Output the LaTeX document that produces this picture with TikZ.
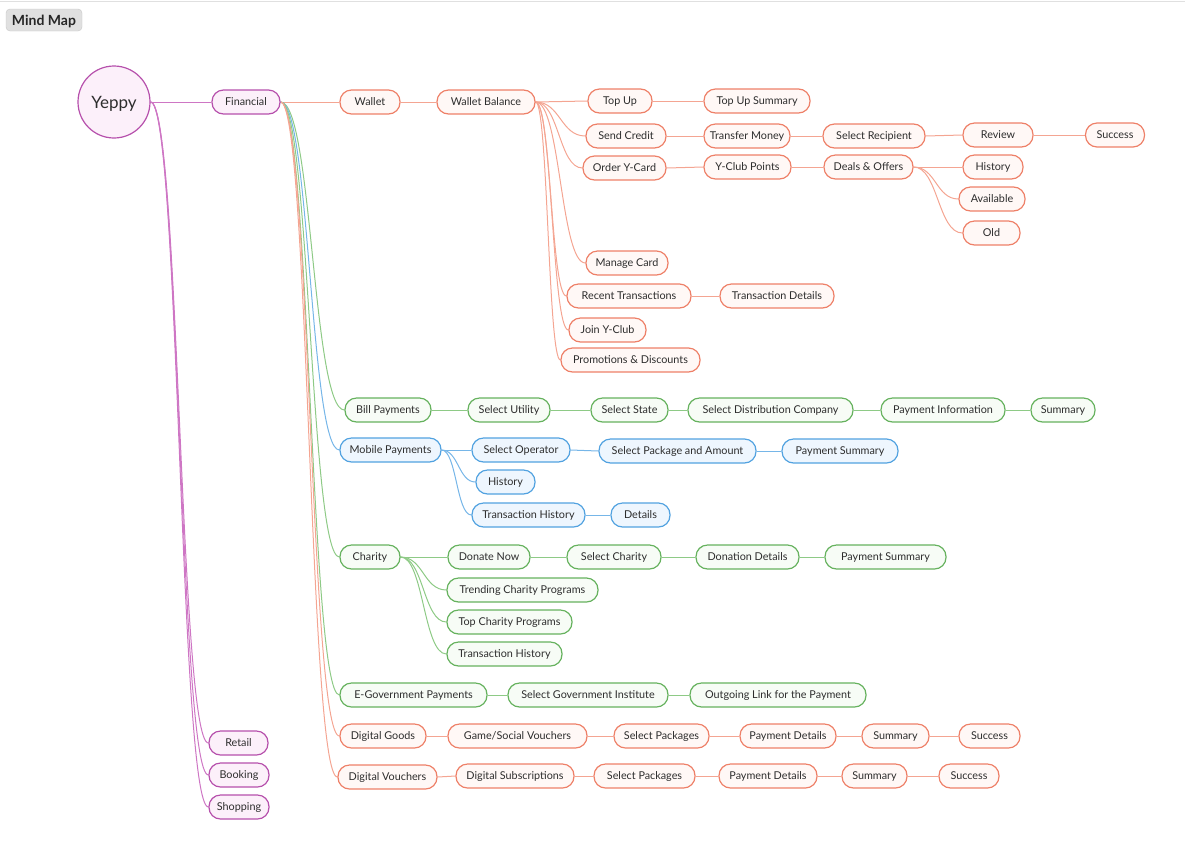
\documentclass[tikz,border=0pt]{standalone}
\usepackage{fontspec}
\setmainfont{Lato}
\usetikzlibrary{calc,backgrounds}
\definecolor{txt}{RGB}{45,45,45}
\definecolor{oB}{RGB}{238,128,104}
\definecolor{oF}{RGB}{255,248,246}
\definecolor{oE}{RGB}{244,165,146}
\definecolor{gB}{RGB}{102,178,94}
\definecolor{gF}{RGB}{247,252,246}
\definecolor{gE}{RGB}{142,202,134}
\definecolor{bB}{RGB}{82,162,224}
\definecolor{bF}{RGB}{238,246,254}
\definecolor{bE}{RGB}{118,182,232}
\definecolor{pB}{RGB}{182,80,172}
\definecolor{pF}{RGB}{252,240,250}
\definecolor{pE}{RGB}{206,118,196}
\newcommand\lk[3]{\draw[#1] let \p1=(#2.east), \p2=(#3.west) in (\p1) .. controls ({0.5*\x1+0.5*\x2},\y1) and ({0.5*\x1+0.5*\x2},\y2) .. (\p2);}
\begin{document}
\begin{tikzpicture}[x=1pt,y=-1pt,
  nd/.style={rounded corners=11.5pt, minimum height=24pt, inner sep=0pt, text height=8pt, text depth=0.4pt, font=\fontsize{10.8}{12}\selectfont, text=txt, line width=1.2pt},
  on/.style={nd, draw=oB, fill=oF},
  gn/.style={nd, draw=gB, fill=gF},
  bn/.style={nd, draw=bB, fill=bF},
  pn/.style={nd, draw=pB, fill=pF},
  w/.style={minimum width=#1pt},
  eo/.style={draw=oE, line width=1pt},
  eg/.style={draw=gE, line width=1pt},
  eb/.style={draw=bE, line width=1pt},
  ep/.style={draw=pE, line width=1pt}]
\useasboundingbox (0,0) rectangle (1185,863);
\draw[black!12, line width=1pt] (0,1) -- (1185,1);
\node[draw=black!22, fill=black!12, rounded corners=4pt, minimum width=76pt, minimum height=22pt, inner sep=0pt, text height=10.2pt, text depth=0pt, font=\fontsize{14}{16}\selectfont\bfseries, text=black!85] (mm) at (44,20) {Mind Map};
% root
\node[circle, draw=pB, fill=pF, line width=1.2pt, minimum size=72pt, inner sep=0pt, text height=12.4pt, text depth=0pt, font=\fontsize{17}{20}\selectfont, text=txt] (yeppy) at (114,102) {Yeppy};
\node[pn, w=68] (fin) at (246,102) {Financial};
\node[pn, w=59] (ret) at (238.5,743) {Retail};
\node[pn, w=60] (boo) at (239,775) {Booking};
\node[pn, w=60] (sho) at (239,807) {Shopping};
% wallet
\node[on, w=60] (wal) at (370,102) {Wallet};
\node[on, w=98] (wb) at (486,102) {Wallet Balance};
\node[on, w=64] (tu) at (620,101) {Top Up};
\node[on, w=106] (tus) at (757,101) {Top Up Summary};
\node[on, w=80] (sc) at (626,136) {Send Credit};
\node[on, w=86] (tm) at (747,136) {Transfer Money};
\node[on, w=102] (sr) at (874,136) {Select Recipient};
\node[on, w=70] (rev) at (998,135) {Review};
\node[on, w=59] (suc) at (1115,135) {Success};
\node[on, w=83] (oyc) at (624.5,168) {Order Y-Card};
\node[on, w=87] (ycp) at (747.5,167) {Y-Club Points};
\node[on, w=89] (deo) at (868.5,167) {Deals \& Offers};
\node[on, w=60] (hist) at (993,167) {History};
\node[on, w=66] (avl) at (992,199) {Available};
\node[on, w=57] (old) at (991.5,233) {Old};
\node[on, w=82] (mc) at (627,263) {Manage Card};
\node[on, w=124] (rt) at (629,296) {Recent Transactions};
\node[on, w=114] (td) at (777,296) {Transaction Details};
\node[on, w=77] (jyc) at (607.5,330) {Join Y-Club};
\node[on, w=139] (prd) at (630.5,360) {Promotions \& Discounts};
% bill
\node[gn, w=86] (bp) at (388,410) {Bill Payments};
\node[gn, w=82] (su) at (509,410) {Select Utility};
\node[gn, w=77] (ss) at (629.5,410) {Select State};
\node[gn, w=165] (sdc) at (770.5,410) {Select Distribution Company};
\node[gn, w=124] (pi) at (943,410) {Payment Information};
\node[gn, w=64] (sum1) at (1063,410) {Summary};
% mobile
\node[bn, w=101] (mp) at (390.5,450) {Mobile Payments};
\node[bn, w=98] (so) at (521,450) {Select Operator};
\node[bn, w=157] (spa) at (677.5,451) {Select Package and Amount};
\node[bn, w=116] (ps1) at (840,451) {Payment Summary};
\node[bn, w=59] (hist2) at (505.5,482) {History};
\node[bn, w=113] (th) at (528.5,515) {Transaction History};
\node[bn, w=59] (det) at (640.5,515) {Details};
% charity
\node[gn, w=60] (ch) at (370,557) {Charity};
\node[gn, w=82] (dn) at (489,557) {Donate Now};
\node[gn, w=94] (sch) at (614,557) {Select Charity};
\node[gn, w=103] (dd) at (747.5,557) {Donation Details};
\node[gn, w=121] (ps2) at (885.5,557) {Payment Summary};
\node[gn, w=151] (tcp) at (522.5,590) {Trending Charity Programs};
\node[gn, w=125] (topc) at (509.5,622) {Top Charity Programs};
\node[gn, w=115] (th2) at (504.5,654) {Transaction History};
% e-gov
\node[gn, w=147] (egp) at (413.5,695) {E-Government Payments};
\node[gn, w=160] (sgi) at (588,695) {Select Government Institute};
\node[gn, w=176] (ol) at (778,695) {Outgoing Link for the Payment};
% digital goods
\node[on, w=86] (dg) at (383,736) {Digital Goods};
\node[on, w=139] (gsv) at (517.5,736) {Game/Social Vouchers};
\node[on, w=95] (sp1) at (661.5,736) {Select Packages};
\node[on, w=96] (pd1) at (788,736) {Payment Details};
\node[on, w=67] (sm2) at (895.5,736) {Summary};
\node[on, w=61] (sc2) at (989.5,736) {Success};
% digital vouchers
\node[on, w=99] (dv) at (387.5,777) {Digital Vouchers};
\node[on, w=118] (ds) at (515,776) {Digital Subscriptions};
\node[on, w=101] (sp2) at (644.5,776) {Select Packages};
\node[on, w=98] (pd2) at (768,776) {Payment Details};
\node[on, w=65] (sm3) at (874.5,776) {Summary};
\node[on, w=60] (sc3) at (969,776) {Success};
\begin{scope}[on background layer]
\lk{ep}{yeppy}{fin}
\lk{ep}{yeppy}{ret}
\lk{ep}{yeppy}{boo}
\lk{ep}{yeppy}{sho}
\lk{eo}{fin}{wal}
\lk{eo}{wal}{wb}
\lk{eo}{wb}{tu}
\lk{eo}{tu}{tus}
\lk{eo}{wb}{sc}
\lk{eo}{sc}{tm}
\lk{eo}{tm}{sr}
\lk{eo}{sr}{rev}
\lk{eo}{rev}{suc}
\lk{eo}{wb}{oyc}
\lk{eo}{oyc}{ycp}
\lk{eo}{ycp}{deo}
\lk{eo}{deo}{hist}
\lk{eo}{deo}{avl}
\lk{eo}{deo}{old}
\lk{eo}{wb}{mc}
\lk{eo}{wb}{rt}
\lk{eo}{rt}{td}
\lk{eo}{wb}{jyc}
\lk{eo}{wb}{prd}
\lk{eg}{fin}{bp}
\lk{eg}{bp}{su}
\lk{eg}{su}{ss}
\lk{eg}{ss}{sdc}
\lk{eg}{sdc}{pi}
\lk{eg}{pi}{sum1}
\lk{eb}{fin}{mp}
\lk{eb}{mp}{so}
\lk{eb}{so}{spa}
\lk{eb}{spa}{ps1}
\lk{eb}{mp}{hist2}
\lk{eb}{mp}{th}
\lk{eb}{th}{det}
\lk{eg}{fin}{ch}
\lk{eg}{ch}{dn}
\lk{eg}{dn}{sch}
\lk{eg}{sch}{dd}
\lk{eg}{dd}{ps2}
\lk{eg}{ch}{tcp}
\lk{eg}{ch}{topc}
\lk{eg}{ch}{th2}
\lk{eg}{fin}{egp}
\lk{eg}{egp}{sgi}
\lk{eg}{sgi}{ol}
\lk{eo}{fin}{dg}
\lk{eo}{dg}{gsv}
\lk{eo}{gsv}{sp1}
\lk{eo}{sp1}{pd1}
\lk{eo}{pd1}{sm2}
\lk{eo}{sm2}{sc2}
\lk{eo}{fin}{dv}
\lk{eo}{dv}{ds}
\lk{eo}{ds}{sp2}
\lk{eo}{sp2}{pd2}
\lk{eo}{pd2}{sm3}
\lk{eo}{sm3}{sc3}
\end{scope}
\end{tikzpicture}
\end{document}
